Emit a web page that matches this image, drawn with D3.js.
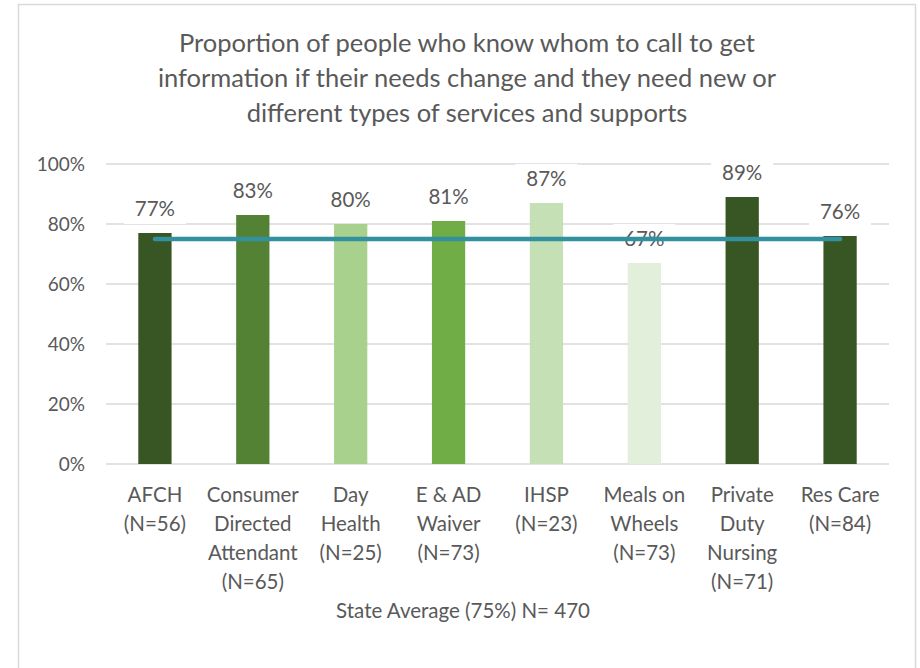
<!DOCTYPE html>
<html>
<head>
<meta charset="utf-8">
<script src="https://cdn.jsdelivr.net/npm/d3@7"></script>
<style>
  html, body { margin: 0; padding: 0; background: #fff; }
  svg { display: block; font-family: Lato, "Open Sans", sans-serif; }
</style>
</head>
<body>
<svg id="chart" width="920" height="668"></svg>
<script>
// Program names (two to four wrapped lines each) and share who know whom to call
const categories = [
  ["AFCH", "(N=56)"],
  ["Consumer", "Directed", "Attendant", "(N=65)"],
  ["Day", "Health", "(N=25)"],
  ["E & AD", "Waiver", "(N=73)"],
  ["IHSP", "(N=23)"],
  ["Meals on", "Wheels", "(N=73)"],
  ["Private", "Duty", "Nursing", "(N=71)"],
  ["Res Care", "(N=84)"]
];
const values = [0.77, 0.83, 0.80, 0.81, 0.87, 0.67, 0.89, 0.76];
const barColors = ["#375623", "#548235", "#a9d18e", "#70ad47", "#c5e0b4", "#e2efda", "#375623", "#375623"];
const stateAverage = 0.75;
const yTicks = [0, 0.2, 0.4, 0.6, 0.8, 1.0];
const titleLines = [
  "Proportion of people who know whom to call to get",
  "information if their needs change and they need new or",
  "different types of services and supports"
];
const axisTitle = "State Average (75%) N= 470";

const svg = d3.select("#chart");
const textColor = "#595959";

// Outer chart frame
svg.append("rect")
  .attr("x", 18.5).attr("y", 4.5)
  .attr("width", 897).attr("height", 680)
  .attr("fill", "#fff").attr("stroke", "#d9d9d9").attr("stroke-width", 1.5);

const plot = { left: 106, right: 889, top: 164, bottom: 464 };

const x = d3.scaleBand()
  .domain(d3.range(categories.length))
  .range([plot.left, plot.right])
  .paddingInner(0.66).paddingOuter(0.33);

const y = d3.scaleLinear().domain([0, 1]).range([plot.bottom, plot.top]);

// Title
svg.append("text")
  .attr("text-anchor", "middle")
  .attr("font-size", 25.5)
  .attr("fill", textColor)
  .selectAll("tspan")
  .data(titleLines)
  .join("tspan")
  .attr("x", 467)
  .attr("y", (d, i) => 52 + i * 35)
  .text(d => d);

// Gridlines
svg.append("g")
  .selectAll("line")
  .data(yTicks)
  .join("line")
  .attr("x1", plot.left).attr("x2", plot.right)
  .attr("y1", d => y(d)).attr("y2", d => y(d))
  .attr("stroke", "#d9d9d9").attr("stroke-width", 1.3);

// Y axis labels
const yAxis = d3.axisLeft(y)
  .tickValues(yTicks)
  .tickFormat(d3.format(".0%"))
  .tickSize(0)
  .tickPadding(21);
const yg = svg.append("g").attr("transform", `translate(${plot.left},0)`).call(yAxis);
yg.select(".domain").remove();
yg.selectAll("text")
  .attr("font-size", 19)
  .attr("fill", textColor)
  .attr("font-family", "Lato, 'Open Sans', sans-serif");

// Bars
svg.append("g")
  .selectAll("rect")
  .data(values)
  .join("rect")
  .attr("x", (d, i) => x(i))
  .attr("width", x.bandwidth())
  .attr("y", d => y(d))
  .attr("height", d => y(0) - y(d))
  .attr("fill", (d, i) => barColors[i]);

// Value labels with a white backing that interrupts the gridlines
const labels = svg.append("g")
  .selectAll("g")
  .data(values)
  .join("g")
  .attr("transform", (d, i) => `translate(${x(i) + x.bandwidth() / 2},${y(d) - 24})`);
labels.append("rect")
  .attr("x", -31).attr("y", -15)
  .attr("width", 62).attr("height", 30)
  .attr("fill", "#fff");
labels.append("text")
  .attr("text-anchor", "middle")
  .attr("dy", "0.35em")
  .attr("font-size", 20.5)
  .attr("fill", textColor)
  .text(d => d3.format(".0%")(d));

// State average line across the category centres
const avgLine = d3.line()
  .x(d => x(d) + x.bandwidth() / 2)
  .y(() => y(stateAverage));
svg.append("path")
  .datum([0, categories.length - 1])
  .attr("d", avgLine)
  .attr("fill", "none")
  .attr("stroke", "#33919f")
  .attr("stroke-width", 4.5)
  .attr("stroke-linecap", "round");

// Category labels
const xg = svg.append("g");
categories.forEach((lines, i) => {
  xg.append("text")
    .attr("text-anchor", "middle")
    .attr("font-size", 20.5)
    .attr("fill", textColor)
    .selectAll("tspan")
    .data(lines)
    .join("tspan")
    .attr("x", x(i) + x.bandwidth() / 2)
    .attr("y", (d, j) => 502 + j * 29)
    .text(d => d);
});

// Axis title
svg.append("text")
  .attr("x", 463).attr("y", 618)
  .attr("text-anchor", "middle")
  .attr("font-size", 20.5)
  .attr("fill", textColor)
  .text(axisTitle);
</script>
</body>
</html>
